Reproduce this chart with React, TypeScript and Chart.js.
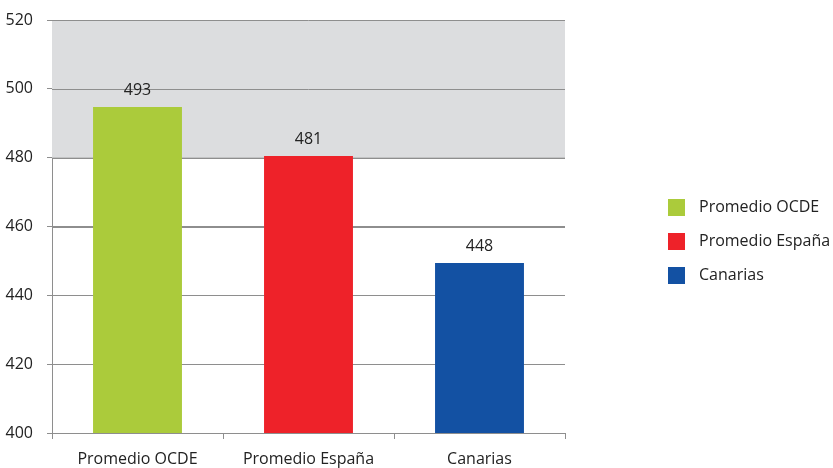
import React, { useEffect, useRef } from "react";
import { Chart, registerables } from "chart.js";

Chart.register(...registerables);

const categories = ["Promedio OCDE", "Promedio España", "Canarias"];
const barValues = [494.7, 480.5, 449.4];
const valueLabels = ["493", "481", "448"];
const barColors = ["#ABCB3B", "#EE2229", "#1351A3"];
const yTicks = [400, 420, 440, 460, 480, 500, 520];
const bandRange = [480, 520];

const FONT = "'Open Sans', 'Noto Sans', sans-serif";

export default function App() {
  const ref = useRef<HTMLCanvasElement | null>(null);

  useEffect(() => {
    if (!ref.current) return;

    const bandPlugin = {
      id: "band",
      beforeDatasetsDraw(chart: any) {
        const { ctx, chartArea, scales } = chart;
        const y = scales.y;
        const top = y.getPixelForValue(bandRange[1]);
        const bottom = y.getPixelForValue(bandRange[0]);
        ctx.save();
        ctx.fillStyle = "#DCDDDF";
        ctx.fillRect(chartArea.left, top, chartArea.right - chartArea.left, bottom - top);
        ctx.strokeStyle = "#8E8E8E";
        ctx.lineWidth = 1;
        for (const v of yTicks) {
          const py = Math.round(y.getPixelForValue(v)) + 0.5;
          ctx.beginPath();
          ctx.moveTo(chartArea.left, py);
          ctx.lineTo(chartArea.right, py);
          ctx.stroke();
        }
        ctx.restore();
      },
    };

    const labelPlugin = {
      id: "valueLabels",
      afterDatasetsDraw(chart: any) {
        const { ctx } = chart;
        const meta = chart.getDatasetMeta(0);
        ctx.save();
        ctx.fillStyle = "#222222";
        ctx.font = `16px ${FONT}`;
        ctx.textAlign = "center";
        ctx.textBaseline = "middle";
        meta.data.forEach((bar: any, i: number) => {
          ctx.fillText(valueLabels[i], bar.x, bar.y - 17);
        });
        ctx.restore();
      },
    };

    const legendPlugin = {
      id: "customLegend",
      afterDraw(chart: any) {
        const { ctx, chartArea } = chart;
        const x0 = chartArea.right + 103;
        const yc = (chartArea.top + chartArea.bottom) / 2 + 14.5;
        ctx.save();
        ctx.font = `16px ${FONT}`;
        ctx.textBaseline = "middle";
        ctx.textAlign = "left";
        categories.forEach((c, i) => {
          const cy = yc + (i - 1) * 34;
          ctx.fillStyle = barColors[i];
          ctx.fillRect(x0, cy - 8, 17, 17);
          ctx.fillStyle = "#222222";
          ctx.fillText(c, x0 + 31, cy);
        });
        ctx.restore();
      },
    };

    const chart = new Chart(ref.current, {
      type: "bar",
      data: {
        labels: categories,
        datasets: [
          {
            label: "Valor",
            data: barValues,
            backgroundColor: barColors,
            borderWidth: 0,
            barPercentage: 0.52,
            categoryPercentage: 1,
          },
        ],
      },
      options: {
        responsive: false,
        animation: false,
        layout: { padding: { left: 0, top: 20, right: 268, bottom: 0 } },
        plugins: {
          legend: { display: false },
          tooltip: { enabled: false },
        },
        scales: {
          x: {
            afterFit(scale: any) {
              scale.height = 35;
              scale.paddingLeft = 0;
              scale.paddingRight = 0;
            },
            grid: {
              drawOnChartArea: false,
              drawTicks: true,
              tickLength: 6,
              offset: true,
              color: "#8E8E8E",
            },
            border: { color: "#8E8E8E", width: 1 },
            ticks: {
              color: "#222222",
              font: { size: 16, family: FONT, lineHeight: 1 },
              padding: 12,
            },
          },
          y: {
            min: 400,
            max: 520,
            afterFit(scale: any) {
              scale.width = 52;
              scale.paddingTop = 0;
              scale.paddingBottom = 0;
            },
            afterBuildTicks(axis: any) {
              axis.ticks = yTicks.map((v) => ({ value: v }));
            },
            grid: {
              color: "#8E8E8E",
              drawTicks: true,
              tickLength: 5,
            },
            border: { color: "#8E8E8E", width: 1 },
            ticks: {
              color: "#222222",
              font: { size: 16, family: FONT },
              padding: 14,
            },
          },
        },
      },
      plugins: [bandPlugin, labelPlugin, legendPlugin],
    });

    return () => chart.destroy();
  }, []);

  return (
    <div style={{ position: "fixed", left: 0, top: 0, width: 833, height: 468, background: "#fff" }}>
      <canvas ref={ref} width={833} height={468} />
    </div>
  );
}
